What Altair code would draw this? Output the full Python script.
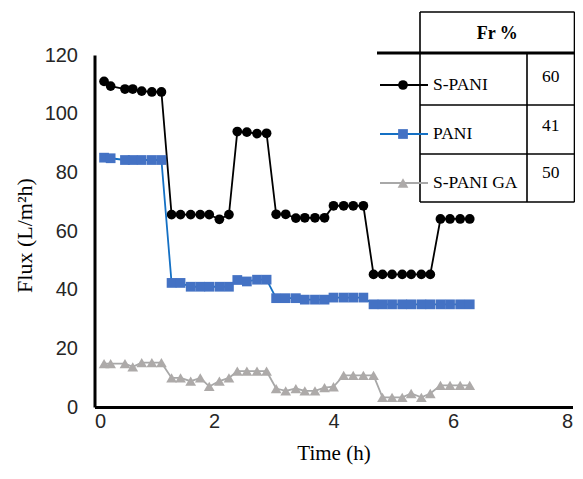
import altair as alt
import pandas as pd

# ---------------- data ----------------
time_h = [0.16, 0.27, 0.51, 0.64, 0.79, 0.96, 1.12,
          1.29, 1.44, 1.61, 1.77, 1.92, 2.09, 2.25,
          2.39, 2.55, 2.72, 2.88,
          3.04, 3.20, 3.37, 3.52, 3.69, 3.85,
          4.00, 4.17, 4.33, 4.50,
          4.67, 4.82, 4.98, 5.15, 5.30, 5.47, 5.62,
          5.79, 5.95, 6.12, 6.28]
s_pani = [111.0, 109.4, 108.4, 108.4, 107.7, 107.4, 107.4,
          65.6, 65.6, 65.6, 65.6, 65.6, 64.0, 65.6,
          93.9, 93.7, 93.2, 93.3,
          65.7, 65.7, 64.4, 64.5, 64.5, 64.5,
          68.6, 68.6, 68.6, 68.6,
          45.2, 45.2, 45.2, 45.2, 45.2, 45.2, 45.2,
          64.1, 64.1, 64.1, 64.1]
pani = [85.0, 84.8, 84.2, 84.2, 84.2, 84.2, 84.2,
        42.3, 42.3, 41.0, 41.0, 41.0, 41.0, 41.0,
        43.3, 42.8, 43.4, 43.4,
        37.1, 37.1, 37.1, 36.6, 36.6, 36.6,
        37.3, 37.3, 37.3, 37.3,
        35.0, 35.0, 35.0, 35.0, 35.0, 35.0, 35.0,
        35.0, 35.0, 35.0, 35.0]
s_pani_ga = [14.8, 14.8, 14.8, 13.7, 15.1, 15.1, 15.1,
             9.9, 9.9, 8.8, 9.9, 7.0, 8.8, 9.9,
             12.2, 12.2, 12.2, 12.2,
             6.3, 5.5, 6.3, 5.5, 5.5, 6.6, 6.9,
             10.8, 10.8, 10.8, 10.8,
             3.3, 3.3, 3.3, 4.6, 3.3, 4.6,
             7.4, 7.4, 7.4, 7.4]

series_names = ["S-PANI", "PANI", "S-PANI GA"]
fr_values = ["60", "41", "50"]
table_header = "Fr %"
x_ticks = [0, 2, 4, 6, 8]
y_ticks = [0, 20, 40, 60, 80, 100, 120]

# ---------------- styles ----------------
line_colors = ["#000000", "#1470C4", "#A8A8A8"]
marker_colors = ["#000000", "#4472C4", "#ADAAA9"]
shapes = ["circle", "square", "triangle-up"]
marker_sizes = [95, 95, 115]

W, H = 478, 352
SERIF = "Liberation Serif"
SANS = "Liberation Sans"

frames = []
for name, vals in zip(series_names, [s_pani, pani, s_pani_ga]):
    frames.append(pd.DataFrame({"t": time_h, "flux": vals, "series": name}))
df = pd.concat(frames, ignore_index=True)

x_enc = alt.X("t:Q", scale=alt.Scale(domain=[0, 8], nice=False, zero=False),
              axis=alt.Axis(values=x_ticks, title="Time (h)", labelPadding=4,
                            titleX=W / 2, titleY=46, titleAlign="center",
                            titleBaseline="middle", titleFontSize=21))
y_enc = alt.Y("flux:Q", scale=alt.Scale(domain=[0, 120], nice=False),
              axis=alt.Axis(values=y_ticks, title="Flux (L/m²h)", labelPadding=17,
                            titleX=-70, titleY=H / 2 + 4, titleAngle=-90,
                            titleAlign="center", titleBaseline="middle"))

layers = []
for i, name in enumerate(series_names):
    base = alt.Chart(df[df.series == name])
    layers.append(base.mark_line(color=line_colors[i], strokeWidth=1.8).encode(x=x_enc, y=y_enc))
    layers.append(base.mark_point(shape=shapes[i], filled=True, opacity=1,
                                  color=marker_colors[i], size=marker_sizes[i]).encode(x=x_enc, y=y_enc))

# ---------------- table / legend (pixel layout) ----------------
one = pd.DataFrame({"a": [0]})
tbl_l, tbl_m, tbl_r = 325.5, 432.5, 480.0
hdr_t, hdr_b = -43.0, -2.0
row_b = [50.0, 99.0, 147.0]
row_mid = [30.0, 79.0, 128.0]
val_y = [22.0, 71.0, 118.0]

def rule(x1, x2, y1, y2, w=1.6):
    return alt.Chart(one).mark_rule(color="#000000", strokeWidth=w).encode(
        x=alt.value(x1), x2=alt.value(x2), y=alt.value(y1), y2=alt.value(y2))

# header box
layers += [rule(tbl_l, tbl_r, hdr_t, hdr_t), rule(tbl_l, tbl_l, hdr_t, hdr_b),
           rule(tbl_r, tbl_r, hdr_t, hdr_b)]
# thick top line
layers.append(rule(282.5, tbl_r + 0.8, hdr_b, hdr_b, 3))
# body
layers += [rule(tbl_l, tbl_l, hdr_b, row_b[-1]), rule(tbl_m, tbl_m, hdr_b, row_b[-1]),
           rule(tbl_r, tbl_r, hdr_b, row_b[-1])]
for yb in row_b:
    layers.append(rule(tbl_l, tbl_r, yb, yb))

layers.append(alt.Chart(one).mark_text(font=SERIF, fontSize=18, fontWeight="bold",
                                       align="center", baseline="middle", color="#000000").encode(
    x=alt.value((tbl_l + tbl_r) / 2), y=alt.value(-21), text=alt.value(table_header)))

for i, name in enumerate(series_names):
    layers.append(alt.Chart(one).mark_rule(color=line_colors[i], strokeWidth=1.8).encode(
        x=alt.value(285.5), x2=alt.value(333.5), y=alt.value(row_mid[i]), y2=alt.value(row_mid[i])))
    layers.append(alt.Chart(one).mark_point(shape=shapes[i], filled=True, opacity=1,
                                            color=marker_colors[i], size=marker_sizes[i]).encode(
        x=alt.value(308.5), y=alt.value(row_mid[i])))
    layers.append(alt.Chart(one).mark_text(font=SERIF, fontSize=17.5, align="left",
                                           baseline="middle", color="#000000").encode(
        x=alt.value(338.5), y=alt.value(row_mid[i]), text=alt.value(name)))
    layers.append(alt.Chart(one).mark_text(font=SERIF, fontSize=17.5, align="center",
                                           baseline="middle", color="#000000").encode(
        x=alt.value((tbl_m + tbl_r) / 2), y=alt.value(val_y[i]), text=alt.value(fr_values[i])))

chart = alt.layer(*layers).properties(
    width=W, height=H, autosize="none",
    padding={"left": 86.5, "top": 47, "right": 2.5, "bottom": 60},
).configure_view(stroke=None).configure_axis(
    domainColor="#000000", domainWidth=3, ticks=False, grid=False,
    labelFont=SANS, labelFontSize=20, labelColor="#262626",
    titleFont=SERIF, titleFontSize=22, titleFontWeight="normal", titleColor="#000000",
)

chart.save("out.html", embed_options={"renderer": "svg", "actions": False})
